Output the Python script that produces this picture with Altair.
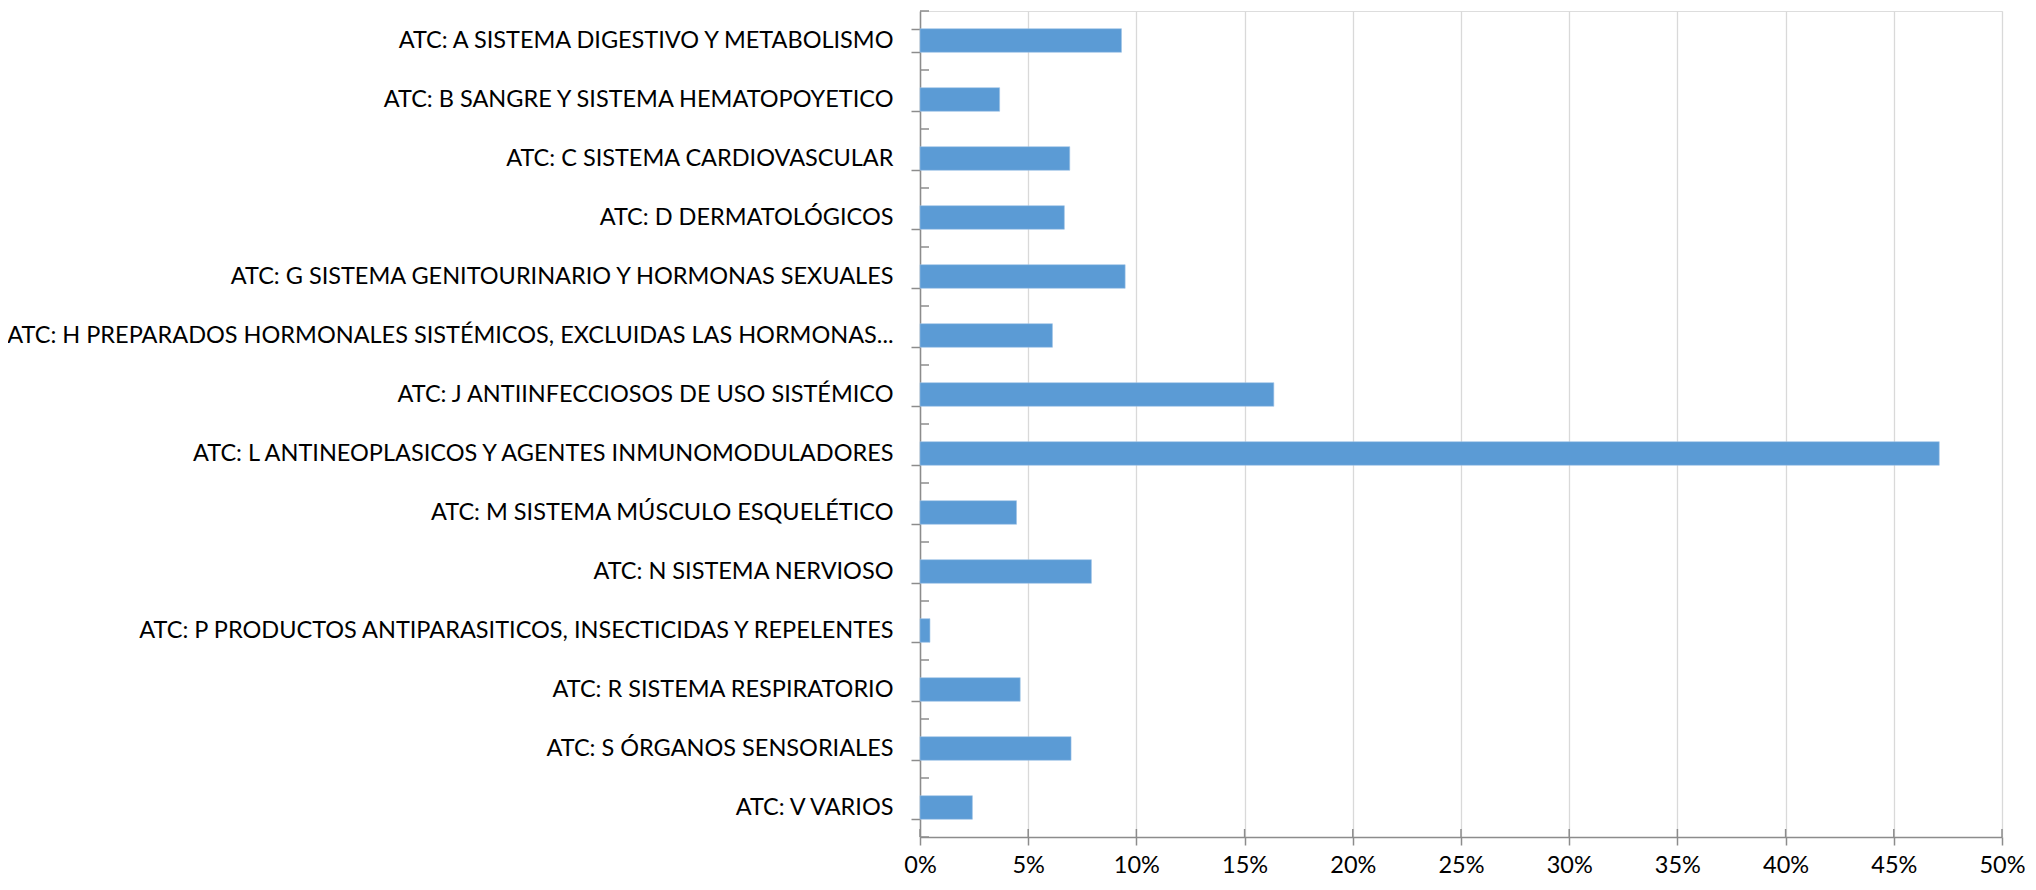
import altair as alt
import pandas as pd

categories = [
    "ATC: A SISTEMA DIGESTIVO Y METABOLISMO",
    "ATC: B SANGRE Y SISTEMA HEMATOPOYETICO",
    "ATC: C SISTEMA CARDIOVASCULAR",
    "ATC: D DERMATOLÓGICOS",
    "ATC: G SISTEMA GENITOURINARIO Y HORMONAS SEXUALES",
    "ATC: H PREPARADOS HORMONALES SISTÉMICOS, EXCLUIDAS LAS HORMONAS...",
    "ATC: J ANTIINFECCIOSOS DE USO SISTÉMICO",
    "ATC: L ANTINEOPLASICOS Y AGENTES INMUNOMODULADORES",
    "ATC: M SISTEMA MÚSCULO ESQUELÉTICO",
    "ATC: N SISTEMA NERVIOSO",
    "ATC: P PRODUCTOS ANTIPARASITICOS, INSECTICIDAS Y REPELENTES",
    "ATC: R SISTEMA RESPIRATORIO",
    "ATC: S ÓRGANOS SENSORIALES",
    "ATC: V VARIOS",
]
values = [0.0931, 0.0368, 0.0692, 0.0667, 0.0948, 0.0612, 0.1635,
          0.471, 0.0446, 0.0792, 0.0046, 0.0463, 0.0698, 0.0242]
x_ticks = [0, 0.05, 0.10, 0.15, 0.20, 0.25, 0.30, 0.35, 0.40, 0.45, 0.50]

df = pd.DataFrame({"cat": categories, "val": values})
ticks_df = pd.DataFrame({"val": x_ticks})
last_df = pd.DataFrame({"cat": [categories[-1]]})

FONT = "Lato"
FS = 23.5
W, H = 1082, 826
PAD_INNER, PAD_OUTER = 0.6, 0.3
AXIS_GREY = "#8C8C8C"
half_gap = PAD_INNER * (H / len(categories)) / 2

x_axis = alt.Axis(values=x_ticks, format=".0%", title=None,
                  grid=True, gridColor="#D9D9D9", gridWidth=1.3,
                  domainColor=AXIS_GREY, domainWidth=1.5,
                  tickColor=AXIS_GREY, tickWidth=1.5, tickSize=8,
                  labelFont=FONT, labelFontSize=FS, labelColor="#000000",
                  labelPadding=8, labelFlush=False)
y_axis = alt.Axis(title=None, grid=False, tickBand="extent",
                  domainColor=AXIS_GREY, domainWidth=1.5,
                  tickColor=AXIS_GREY, tickWidth=1.5, tickSize=9,
                  labelFont=FONT, labelFontSize=FS, labelColor="#000000",
                  labelPadding=18, labelLimit=1000)
x_scale = alt.Scale(domain=[0, 0.5], nice=False, zero=True)
y_scale = alt.Scale(paddingInner=PAD_INNER, paddingOuter=PAD_OUTER)

bars = alt.Chart(df).mark_bar(color="#5B9BD5", stroke="#9DC3E6", strokeWidth=0.6).encode(
    x=alt.X("val:Q", scale=x_scale, axis=x_axis, title=None),
    y=alt.Y("cat:N", sort=categories, scale=y_scale, axis=y_axis, title=None),
)

# inner halves of the crossing ticks on the category axis
y_inner = alt.Chart(df).mark_rule(color=AXIS_GREY, strokeWidth=1.5, yOffset=-half_gap).encode(
    y=alt.Y("cat:N", sort=categories, bandPosition=0, title=None),
    x=alt.value(0), x2=alt.value(9),
)
y_inner_last = alt.Chart(last_df).mark_rule(color=AXIS_GREY, strokeWidth=1.5, yOffset=half_gap).encode(
    y=alt.Y("cat:N", sort=categories, bandPosition=1, title=None),
    x=alt.value(0), x2=alt.value(9),
)
# inner halves of the crossing ticks on the value axis
x_inner = alt.Chart(ticks_df).mark_rule(color=AXIS_GREY, strokeWidth=1.5).encode(
    x=alt.X("val:Q", title=None),
    y=alt.value(H - 8), y2=alt.value(H),
)

chart = alt.layer(bars, y_inner, y_inner_last, x_inner).properties(
    width=W, height=H,
    autosize=alt.AutoSizeParams(type="none"),
    padding={"left": 912, "top": 3, "right": 26, "bottom": 40},
).configure_view(strokeWidth=0).configure(background="white")

chart.save("out.html", embed_options={"renderer": "svg", "actions": False})
